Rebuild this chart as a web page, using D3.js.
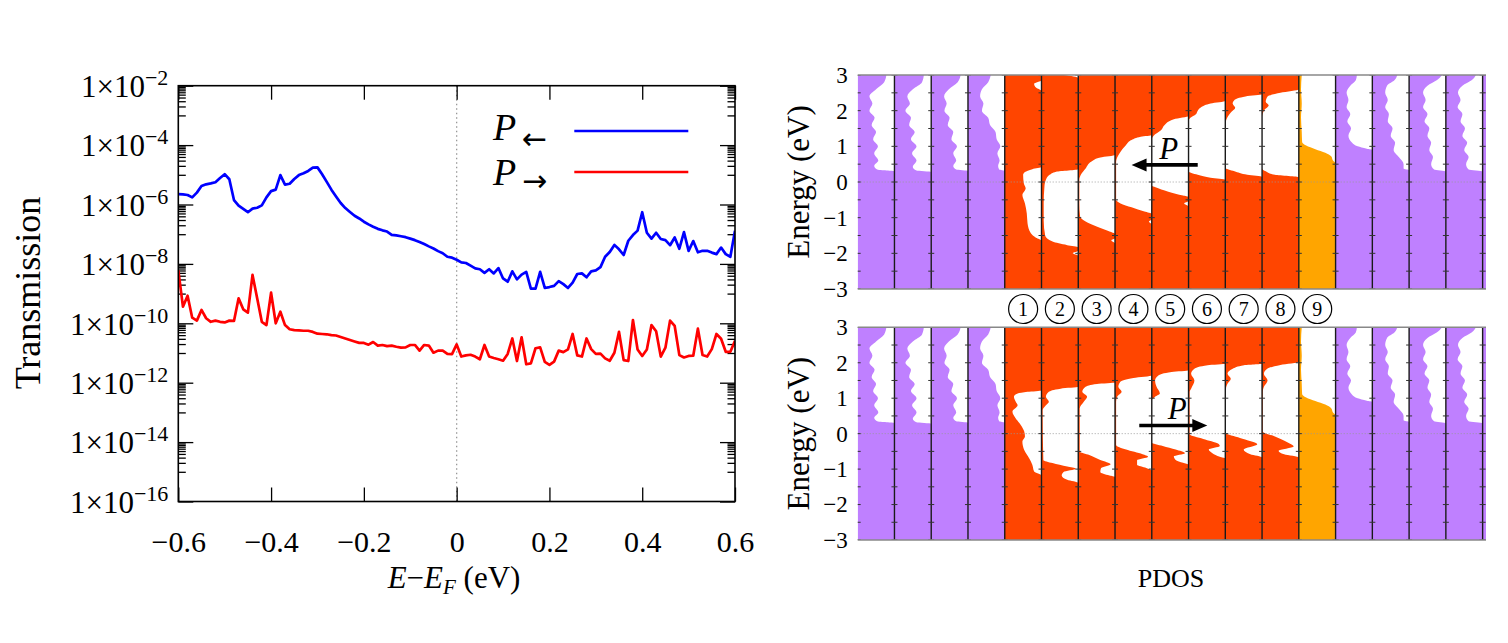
<!DOCTYPE html>
<html><head><meta charset="utf-8">
<script src="https://cdn.jsdelivr.net/npm/d3@7"></script>
<style>body{margin:0;background:#fff}svg{display:block}</style>
</head><body><svg id="c" width="1508" height="643"></svg>
<script>
// ---------------- DATA: transmission (left) ----------------
const energies = [
-0.60,-0.59,-0.58,-0.57,-0.56,-0.55,-0.54,-0.53,-0.52,-0.51,
-0.50,-0.49,-0.48,-0.47,-0.46,-0.45,-0.44,-0.43,-0.42,-0.41,
-0.40,-0.39,-0.38,-0.37,-0.36,-0.35,-0.34,-0.33,-0.32,-0.31,
-0.30,-0.29,-0.28,-0.27,-0.26,-0.25,-0.24,-0.23,-0.22,-0.21,
-0.20,-0.19,-0.18,-0.17,-0.16,-0.15,-0.14,-0.13,-0.12,-0.11,
-0.10,-0.09,-0.08,-0.07,-0.06,-0.05,-0.04,-0.03,-0.02,-0.01,
0.00,0.01,0.02,0.03,0.04,0.05,0.06,0.07,0.08,0.09,
0.10,0.11,0.12,0.13,0.14,0.15,0.16,0.17,0.18,0.19,
0.20,0.21,0.22,0.23,0.24,0.25,0.26,0.27,0.28,0.29,
0.30,0.31,0.32,0.33,0.34,0.35,0.36,0.37,0.38,0.39,
0.40,0.41,0.42,0.43,0.44,0.45,0.46,0.47,0.48,0.49,
0.50,0.51,0.52,0.53,0.54,0.55,0.56,0.57,0.58,0.59,0.60];
// log10 of transmission, P<- (blue)
const blueLog10T = [
-5.65,-5.66,-5.68,-5.76,-5.60,-5.38,-5.32,-5.29,-5.25,-5.11,-4.98,-5.15,-5.85,-6.04,-6.15,-6.26,-6.14,-6.11,-6.03,-5.76,-5.55,-5.50,-5.01,-5.33,-5.30,-5.14,-5.01,-4.95,-4.87,-4.76,-4.75,
-4.98,-5.24,-5.50,-5.73,-5.95,-6.12,-6.25,-6.38,-6.47,-6.58,-6.67,-6.75,-6.82,-6.87,-6.91,-7.02,-7.04,-7.07,-7.10,-7.15,-7.20,-7.26,-7.33,-7.41,-7.48,-7.57,-7.64,-7.76,-7.79,-7.86,-7.95,-7.97,
-8.06,-8.15,-8.18,-8.30,-8.18,-8.32,-8.14,-8.49,-8.60,-8.25,-8.52,-8.36,-8.27,-8.83,-8.83,-8.27,-8.81,-8.78,-8.74,-8.58,-8.68,-8.81,-8.63,-8.34,-8.32,-8.45,-8.25,-8.22,-8.11,-7.76,-7.60,-7.36,-7.51,-7.70,-7.22,-7.03,-6.88,-6.26,-6.95,-7.15,-6.95,-7.16,-7.20,-7.37,-7.11,-7.49,-6.93,-7.56,-7.23,-7.61,-7.56,-7.56,-7.62,-7.67,-7.45,-7.67,-7.76,-6.88];
// log10 of transmission, P-> (red)
const redLog10T = [
-8.21,-9.44,-9.07,-9.81,-9.91,-9.55,-9.83,-9.95,-9.91,-9.95,-9.97,-9.91,-9.92,-9.16,-9.53,-9.64,-8.37,-9.16,-9.95,-10.06,-8.97,-10.00,-9.61,-10.06,-10.20,
-10.23,-10.24,-10.25,-10.25,-10.29,-10.35,-10.36,-10.37,-10.40,-10.41,-10.46,-10.51,-10.56,-10.61,-10.66,-10.66,-10.72,-10.63,-10.75,-10.73,-10.77,-10.75,-10.79,-10.82,-10.81,-10.73,-10.73,-10.92,-10.73,-10.75,-10.99,-10.92,-10.92,-11.03,-11.04,-10.71,-11.12,-11.08,
-11.06,-11.12,-11.21,-10.73,-11.12,-11.17,-11.21,-11.26,-11.03,-10.51,-11.27,-10.47,-11.38,-11.35,-10.84,-10.81,-11.30,-11.40,-11.29,-10.92,-10.97,-10.88,-10.36,-11.08,-11.12,-10.51,-10.87,-11.03,-11.02,-11.18,-11.26,-10.99,-10.29,-11.24,-11.27,-9.89,-10.88,-11.10,-10.88,-10.06,-10.27,-11.12,-10.82,-9.91,-10.09,-11.07,-11.15,-11.10,-11.09,-10.18,-11.07,-11.12,-10.87,-10.36,-10.52,-10.96,-10.96,-10.59];
const xTicks = [-0.6,-0.4,-0.2,0,0.2,0.4,0.6];
const yMajorExps = [-2,-4,-6,-8,-10,-12,-14,-16];
const legendArrows = ["\u2190","\u2192"];

// ---------------- DATA: PDOS profiles [E (eV), filled fraction of column] ----------------
const purple1 = [[3,0.78],[2.8,0.72],[2.6,0.5],[2.4,0.32],[2.2,0.4],[2.0,0.32],[1.8,0.46],[1.6,0.38],[1.4,0.5],[1.2,0.42],[1.0,0.55],[0.8,0.45],[0.6,0.56],[0.45,0.45],[0.34,0.55],[0.3,1],[-3,1]];
const purple2 = [[3,0.8],[2.8,0.75],[2.6,0.5],[2.4,0.35],[2.2,0.42],[2.0,0.3],[1.8,0.45],[1.6,0.4],[1.4,0.55],[1.2,0.45],[1.0,0.6],[0.8,0.48],[0.6,0.6],[0.42,0.5],[0.32,0.6],[0.28,1],[-3,1]];
const purple3 = [[3,0.8],[2.8,0.72],[2.6,0.48],[2.4,0.35],[2.2,0.42],[2.0,0.36],[1.8,0.5],[1.6,0.45],[1.4,0.6],[1.2,0.55],[1.0,0.7],[0.8,0.6],[0.6,0.68],[0.45,0.6],[0.35,0.68],[0.31,1],[-3,1]];
const purple4 = [[3,0.62],[2.8,0.55],[2.6,0.38],[2.4,0.33],[2.2,0.42],[2.0,0.38],[1.8,0.55],[1.6,0.6],[1.4,0.75],[1.2,0.78],[1.0,0.88],[0.8,0.8],[0.6,0.86],[0.45,0.82],[0.35,0.85],[0.31,1],[-3,1]];
const purple5 = [[3,0.58],[2.85,0.55],[2.7,0.4],[2.5,0.3],[2.3,0.35],[2.1,0.3],[1.9,0.4],[1.7,0.32],[1.5,0.42],[1.3,0.35],[1.1,0.45],[1.0,0.6],[0.93,0.85],[0.9,1],[-3,1]];
const purple6 = [[3,0.68],[2.85,0.6],[2.7,0.4],[2.5,0.35],[2.3,0.42],[2.1,0.35],[1.9,0.45],[1.7,0.42],[1.5,0.55],[1.3,0.5],[1.1,0.62],[0.9,0.58],[0.7,0.72],[0.5,0.85],[0.38,0.85],[0.33,1],[-3,1]];
const purple7 = [[3,0.9],[2.85,0.75],[2.7,0.5],[2.5,0.38],[2.3,0.45],[2.1,0.38],[1.9,0.5],[1.7,0.42],[1.5,0.55],[1.3,0.5],[1.1,0.6],[0.9,0.55],[0.7,0.65],[0.5,0.6],[0.35,0.68],[0.29,1],[-3,1]];
const purple8 = [[3,0.82],[2.85,0.7],[2.7,0.45],[2.5,0.33],[2.3,0.4],[2.1,0.32],[1.9,0.45],[1.7,0.4],[1.5,0.52],[1.3,0.45],[1.1,0.58],[0.9,0.5],[0.7,0.62],[0.5,0.55],[0.35,0.62],[0.29,1],[-3,1]];
const purpleFull = [[3,1],[-3,1]];
const orangeSite9 = [[3,0.08],[2.6,0.06],[2.2,0.08],[1.8,0.06],[1.4,0.08],[1.12,0.09],[1.02,0.2],[0.92,0.45],[0.82,0.72],[0.72,0.88],[0.6,0.93],[0.52,1],[-3,1]];
// top panel (P <-), sites 1-8
const redTop1 = [[3,1],[2.85,1],[2.75,0.8],[2.65,0.85],[2.55,1],[0.42,1],[0.36,0.75],[0.28,0.55],[0.2,0.5],[-0.04,0.52],[-0.18,0.57],[-0.36,0.48],[-0.6,0.55],[-0.88,0.6],[-1.16,0.62],[-1.44,0.71],[-1.56,0.85],[-1.64,1],[-3,1]];
const redTop2 = [[3,0.6],[2.92,1],[0.36,1],[0.29,0.4],[0.2,0.22],[0.06,0.12],[-0.13,0.08],[-0.6,0.06],[-1.07,0.06],[-1.5,0.1],[-1.67,0.3],[-1.77,0.7],[-1.83,1],[-1.93,1],[-2.0,0.85],[-2.07,1],[-3,1]];
const redTop3 = [[3,1],[0.76,1],[0.69,0.6],[0.57,0.35],[0.38,0.2],[0.2,0.07],[0.06,0.03],[-0.6,0.03],[-0.97,0.05],[-1.11,0.2],[-1.25,0.5],[-1.39,0.85],[-1.46,1],[-1.58,1],[-1.64,0.9],[-1.72,1],[-3,1]];
const redTop4 = [[3,1],[1.32,1],[1.27,0.7],[1.18,0.45],[1.04,0.3],[0.8,0.12],[0.57,0.03],[-0.5,0.03],[-0.6,0.15],[-0.71,0.45],[-0.83,0.8],[-0.9,1],[-1.05,1],[-1.11,0.92],[-1.19,1],[-3,1]];
const redTop5 = [[3,1],[1.85,1],[1.76,0.6],[1.6,0.35],[1.45,0.25],[1.3,0.05],[1.2,0],[-0.1,0],[-0.15,0.1],[-0.27,0.45],[-0.38,0.85],[-0.42,1],[-0.53,1],[-0.6,0.88],[-0.68,1],[-3,1]];
const redTop6 = [[3,1],[2.27,1],[2.2,0.6],[2.1,0.35],[2.0,0.25],[1.9,0.2],[1.8,0.05],[1.7,0],[0.3,0],[0.2,0.25],[0.12,0.6],[0.06,1],[-3,1]];
const redTop7 = [[3,1],[2.46,1],[2.4,0.55],[2.3,0.25],[2.2,0.2],[2.08,0.27],[1.95,0.15],[1.75,0.03],[1.6,0],[0.4,0],[0.3,0.25],[0.2,0.6],[0.14,1],[-3,1]];
const redTop8 = [[3,1],[2.6,1],[2.5,0.5],[2.4,0.15],[2.25,0.1],[2.15,0.18],[2.0,0.05],[1.8,0],[0.38,0],[0.3,0.1],[0.2,0.35],[0.13,1],[-3,1]];
// bottom panel (P ->), sites 1-8
const redBot1 = [[3,1],[1.22,1],[1.18,0.62],[1.13,0.35],[1.04,0.25],[0.9,0.3],[0.8,0.35],[0.62,0.21],[0.43,0.3],[0.24,0.44],[0.06,0.53],[-0.08,0.55],[-0.22,0.48],[-0.46,0.53],[-0.69,0.66],[-0.88,0.75],[-1.07,0.8],[-1.18,1],[-3,1]];
const redBot2 = [[3,1],[1.32,1],[1.27,0.52],[1.18,0.2],[1.04,0.12],[0.9,0.2],[0.8,0.12],[0.66,0.03],[-0.74,0.05],[-0.83,0.3],[-0.93,0.7],[-0.99,0.93],[-1.08,0.6],[-1.18,0.55],[-1.3,0.7],[-1.39,1],[-3,1]];
const redBot3 = [[3,1],[1.44,1],[1.4,0.51],[1.32,0.2],[1.18,0.11],[1.04,0.24],[0.9,0.15],[0.71,0.04],[-0.5,0.04],[-0.6,0.3],[-0.74,0.6],[-0.86,0.88],[-0.97,0.62],[-1.08,0.6],[-1.18,0.85],[-1.22,1],[-3,1]];
const redBot4 = [[3,1],[1.64,1],[1.57,0.5],[1.46,0.14],[1.32,0.09],[1.18,0.18],[1.04,0.06],[0.9,0.03],[-0.32,0.03],[-0.45,0.3],[-0.58,0.75],[-0.65,0.9],[-0.75,0.6],[-0.88,0.6],[-0.97,0.85],[-1.05,1],[-3,1]];
const redBot5 = [[3,1],[1.79,1],[1.74,0.54],[1.64,0.18],[1.5,0.09],[1.32,0.13],[1.13,0.22],[1.04,0.09],[0.94,0],[-0.25,0],[-0.35,0.3],[-0.45,0.65],[-0.55,0.9],[-0.64,0.6],[-0.74,0.65],[-0.82,0.85],[-0.88,1],[-3,1]];
const redBot6 = [[3,1],[1.97,1],[1.93,0.52],[1.83,0.16],[1.69,0.07],[1.5,0.16],[1.27,0.07],[1.18,0.03],[-0.02,0.03],[-0.15,0.4],[-0.28,0.8],[-0.35,0.85],[-0.45,0.55],[-0.55,0.65],[-0.65,0.85],[-0.7,1],[-3,1]];
const redBot7 = [[3,1],[1.97,1],[1.93,0.51],[1.83,0.2],[1.69,0.06],[1.55,0.15],[1.41,0.06],[1.27,0.02],[0.02,0.02],[-0.12,0.4],[-0.3,0.87],[-0.45,0.5],[-0.58,0.68],[-0.67,1],[-3,1]];
const redBot8 = [[3,1],[2.02,1],[1.94,0.5],[1.83,0.14],[1.69,0.05],[1.5,0.15],[1.32,0.05],[1.18,0.02],[0.06,0.02],[-0.08,0.35],[-0.25,0.7],[-0.36,0.86],[-0.48,0.45],[-0.58,0.6],[-0.67,1],[-3,1]];
const siteLabels = ["1","2","3","4","5","6","7","8","9"];
const pdosTickLabels = [3,2,1,0,-1,-2,-3];
const pdosMinorTicks = [3,2.5,2,1.5,1,0.5,0,-0.5,-1,-1.5,-2,-2.5,-3];
const columnKinds = ["purple","purple","purple","purple","red","red","red","red","red","red","red","red","orange","purple","purple","purple","purple","purple"];
const topColumns = [purple1,purple2,purple3,purple4,redTop1,redTop2,redTop3,redTop4,redTop5,redTop6,redTop7,redTop8,orangeSite9,purple5,purple6,purple7,purple8,purpleFull];
const botColumns = [purple1,purple2,purple3,purple4,redBot1,redBot2,redBot3,redBot4,redBot5,redBot6,redBot7,redBot8,orangeSite9,purple5,purple6,purple7,purple8,purpleFull];
// polarization arrows: [from column coordinate, to column coordinate, energy]
const arrowTop = [9.25, 7.45, 0.48];
const arrowBot = [7.66, 9.51, 0.23];

// ---------------- DRAWING ----------------
const serif = "'Liberation Serif','Times New Roman',Times,serif";
const svg = d3.select("#c");
const defs = svg.append("defs");

// ===== left chart =====
const L = {x0:178.3, x1:735, y0:85.7, y1:501.5};
const x = d3.scaleLinear().domain([-0.6,0.6]).range([L.x0, L.x1]);
const y = d3.scaleLog().domain([1e-16,1e-2]).range([L.y1, L.y0]);
defs.append("clipPath").attr("id","lclip").append("rect")
  .attr("x",L.x0).attr("y",L.y0).attr("width",L.x1-L.x0).attr("height",L.y1-L.y0);

const gl = svg.append("g");
gl.append("line").attr("x1",x(0)).attr("x2",x(0)).attr("y1",L.y0).attr("y2",L.y1)
  .attr("stroke","#999").attr("stroke-width",1.3).attr("stroke-dasharray","1.5,3");

const majors = yMajorExps.map(e => Math.pow(10,e));
const minors = [];
yMajorExps.forEach(e => { if (e > -16) for (let j=1;j<=9;j++) minors.push(j*Math.pow(10,e-1)); });

function styleAxis(g){
  g.select(".domain").remove();
  g.selectAll(".tick line").attr("stroke","#000").attr("stroke-width",1.3);
}
gl.append("g").attr("transform",`translate(0,${L.y1})`)
  .call(d3.axisBottom(x).tickValues(xTicks).tickSize(-14).tickSizeOuter(0).tickPadding(29)
    .tickFormat(d => d===0 ? "0" : d3.format(".1f")(d)))
  .call(styleAxis)
  .call(g => g.selectAll("text").attr("font-family",serif).attr("font-size",30).attr("fill","#000"));
gl.append("g").attr("transform",`translate(0,${L.y0})`)
  .call(d3.axisTop(x).tickValues(xTicks).tickSize(-14).tickSizeOuter(0).tickFormat(""))
  .call(styleAxis);
const yAxisL = gl.append("g").attr("transform",`translate(${L.x0},0)`)
  .call(d3.axisLeft(y).tickValues(majors).tickSize(-15).tickSizeOuter(0).tickPadding(10))
  .call(styleAxis);
yAxisL.selectAll(".tick text").each(function(d){
  const t = d3.select(this);
  const e = Math.round(Math.log10(d));
  t.text(null).attr("font-family",serif).attr("font-size",31).attr("fill","#000").attr("dy","0.35em");
  t.append("tspan").text("1\u00d710");
  t.append("tspan").attr("dy",-12).attr("font-size",22).text("\u2212"+Math.abs(e));
});
gl.append("g").attr("transform",`translate(${L.x0},0)`)
  .call(d3.axisLeft(y).tickValues(minors).tickSize(-7.5).tickSizeOuter(0).tickFormat(""))
  .call(styleAxis);
gl.append("g").attr("transform",`translate(${L.x1},0)`)
  .call(d3.axisRight(y).tickValues(majors).tickSize(-15).tickSizeOuter(0).tickFormat(""))
  .call(styleAxis);
gl.append("g").attr("transform",`translate(${L.x1},0)`)
  .call(d3.axisRight(y).tickValues(minors).tickSize(-7.5).tickSizeOuter(0).tickFormat(""))
  .call(styleAxis);

const line = d3.line().x((d,i) => x(energies[i])).y(d => y(Math.pow(10,d)));
gl.append("path").datum(blueLog10T).attr("d",line).attr("fill","none").attr("stroke","#0000ff")
  .attr("stroke-width",2.7).attr("stroke-linejoin","round").attr("clip-path","url(#lclip)");
gl.append("path").datum(redLog10T).attr("d",line).attr("fill","none").attr("stroke","#ff0000")
  .attr("stroke-width",2.7).attr("stroke-linejoin","round").attr("clip-path","url(#lclip)");

gl.append("rect").attr("x",L.x0).attr("y",L.y0).attr("width",L.x1-L.x0).attr("height",L.y1-L.y0)
  .attr("fill","none").attr("stroke","#000").attr("stroke-width",1.6);

// legend
const legColors = ["#0000ff","#ff0000"];
const legY = [131, 172];
const legPBase = [140, 185];
const legArrowBase = [149, 191];
legY.forEach((ly,i) => {
  gl.append("text").attr("x",493).attr("y",legPBase[i]).attr("font-family",serif).attr("fill","#000")
    .attr("font-style","italic").attr("font-size",38).text("P");
  gl.append("text").attr("x",522).attr("y",legArrowBase[i]).attr("font-family","'DejaVu Sans',sans-serif")
    .attr("font-size",30).attr("fill","#000").text(legendArrows[i]);
  gl.append("line").attr("x1",574.3).attr("x2",688.3).attr("y1",ly).attr("y2",ly)
    .attr("stroke",legColors[i]).attr("stroke-width",2.7);
});

// axis titles
gl.append("text").attr("transform","translate(40,293) rotate(-90)").attr("text-anchor","middle")
  .attr("font-family",serif).attr("font-size",36).attr("fill","#000").text("Transmission");
{
  const t = gl.append("text").attr("x",454).attr("y",588).attr("text-anchor","middle")
    .attr("font-family",serif).attr("font-size",31).attr("fill","#000");
  t.append("tspan").attr("font-style","italic").text("E");
  t.append("tspan").text("\u2212");
  t.append("tspan").attr("font-style","italic").text("E");
  t.append("tspan").attr("font-style","italic").attr("font-size",21).attr("dy",6).text("F");
  t.append("tspan").attr("dy",-6).text(" (eV)");
}

// ===== right: PDOS panels =====
const P = {x0:857.7, cw:36.76, xEnd:1486};
const colX = d3.scaleLinear().domain([0,17]).range([P.x0, P.x0 + 17*P.cw]);
const colors = {purple:"#bf80ff", red:"#ff4500", orange:"#ffa500"};
const panels = [
  {top:75, bottom:289, cols:topColumns, arrow:arrowTop, id:"pt"},
  {top:327.3, bottom:540, cols:botColumns, arrow:arrowBot, id:"pb"}
];
const gr = svg.append("g");
panels.forEach(p => {
  const yP = d3.scaleLinear().domain([-3,3]).range([p.bottom, p.top]);
  defs.append("clipPath").attr("id",p.id).append("rect")
    .attr("x",P.x0).attr("y",p.top).attr("width",P.xEnd-P.x0).attr("height",p.bottom-p.top);
  const g = gr.append("g").attr("clip-path",`url(#${p.id})`);
  p.cols.forEach((prof,c) => {
    const xl = colX(c);
    const area = d3.area().curve(d3.curveMonotoneY)
      .y(d => yP(d[0])).x0(xl).x1(d => xl + d[1]*P.cw);
    g.append("path").datum(prof).attr("d",area).attr("fill",colors[columnKinds[c]]);
  });
  // zero line
  g.append("line").attr("x1",P.x0).attr("x2",P.xEnd).attr("y1",yP(0)).attr("y2",yP(0))
    .attr("stroke","#999").attr("stroke-width",0.9).attr("stroke-dasharray","1,2");
  // dividers and tick marks
  for (let c=0;c<=17;c++){
    const xv = colX(c);
    if (c>0) g.append("line").attr("x1",xv).attr("x2",xv).attr("y1",p.top).attr("y2",p.bottom)
      .attr("stroke","#1a1a1a").attr("stroke-width",1.4);
    pdosMinorTicks.forEach(e => {
      g.append("line").attr("x1",xv-3).attr("x2",xv+3).attr("y1",yP(e)).attr("y2",yP(e))
        .attr("stroke","#333").attr("stroke-width",1);
    });
  }
  // frame
  gr.append("line").attr("x1",P.x0).attr("x2",P.xEnd).attr("y1",p.top).attr("y2",p.top).attr("stroke","#888").attr("stroke-width",1.6);
  gr.append("line").attr("x1",P.x0).attr("x2",P.xEnd).attr("y1",p.bottom).attr("y2",p.bottom).attr("stroke","#888").attr("stroke-width",1.6);
  // y tick labels
  gr.append("g").attr("transform",`translate(${P.x0},0)`)
    .call(d3.axisLeft(yP).tickValues(pdosTickLabels).tickSize(0).tickPadding(10).tickFormat(d => d<0 ? "\u2212"+Math.abs(d) : String(d)))
    .call(g2 => g2.select(".domain").remove())
    .call(g2 => g2.selectAll("text").attr("font-family",serif).attr("font-size",23).attr("fill","#000"));
  gr.append("text").attr("transform",`translate(809,${(p.top+p.bottom)/2}) rotate(-90)`).attr("text-anchor","middle")
    .attr("font-family",serif).attr("font-size",31).attr("fill","#000").text("Energy (eV)");
  // polarization arrow
  const [cFrom, cTo, eA] = p.arrow;
  const xa = colX(cFrom), xb = colX(cTo), ya = yP(eA);
  const dir = Math.sign(xb - xa);
  gr.append("line").attr("x1",xa).attr("x2",xb - dir*12).attr("y1",ya).attr("y2",ya)
    .attr("stroke","#000").attr("stroke-width",3.6);
  gr.append("path").attr("d",`M${xb},${ya} L${xb-dir*15},${ya-6.5} L${xb-dir*15},${ya+6.5} Z`).attr("fill","#000");
  gr.append("text").attr("x",(xa+xb)/2 + 4).attr("y",ya-6).attr("text-anchor","middle")
    .attr("font-family",serif).attr("font-style","italic").attr("font-size",31).attr("fill","#000").text("P");
});

// site numbers
siteLabels.forEach((s,i) => {
  const cx = colX(4+i) + P.cw/2;
  gr.append("circle").attr("cx",cx).attr("cy",309).attr("r",14.5).attr("fill","#fff").attr("stroke","#000").attr("stroke-width",1.2);
  gr.append("text").attr("x",cx).attr("y",309).attr("dy","0.35em").attr("text-anchor","middle")
    .attr("font-family",serif).attr("font-size",20).attr("fill","#000").text(s);
});
gr.append("text").attr("x",1171).attr("y",587).attr("text-anchor","middle")
  .attr("font-family",serif).attr("font-size",26).attr("fill","#000").text("PDOS");
</script>
</body></html>
